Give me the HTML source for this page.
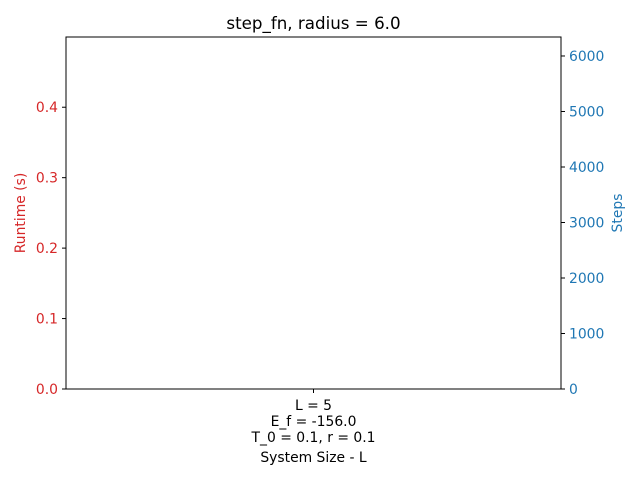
<!DOCTYPE html>
<html><head><meta charset="utf-8"><style>
body{margin:0;background:#fff;}
svg{display:block;font-family:"DejaVu Sans","Liberation Sans",sans-serif;}
</style></head><body>
<svg id="chart" width="640" height="480" viewBox="0 0 640 480">
<rect width="640" height="480" fill="#fff"/>
<text x="313.5" y="29" font-size="16.7" text-anchor="middle">step_fn, radius = 6.0</text>
<g id="marks"></g>
<g id="axes"></g>
<rect x="66" y="37" width="495" height="352" fill="none" stroke="#000" stroke-width="1"/>
<text x="0" y="0" transform="translate(25,213) rotate(-90)" font-size="13.9" fill="#d62728" text-anchor="middle">Runtime (s)</text>
<text x="0" y="0" transform="translate(622,213) rotate(-90)" font-size="13.9" fill="#1f77b4" text-anchor="middle">Steps</text>
<text x="313.5" y="462" font-size="13.9" text-anchor="middle">System Size - L</text>
</svg>
<script>
const categories = ["L = 5\nE_f = -156.0\nT_0 = 0.1, r = 0.1"];
const runtimeValues = [0];
const stepValues = [0];
const leftTicks = [0.0, 0.1, 0.2, 0.3, 0.4];
const rightTicks = [0, 1000, 2000, 3000, 4000, 5000, 6000];

const X0 = 66, X1 = 561, Y0 = 389, Y1 = 37;
const leftMax = 0.4997, rightMax = 6342;
const ns = "http://www.w3.org/2000/svg";
function yL(v){ return Y0 - v / leftMax * (Y0 - Y1); }
function yR(v){ return Y0 - v / rightMax * (Y0 - Y1); }
function xC(i){ return X0 + (i + 0.5) * (X1 - X0) / categories.length; }
function mk(tag, attrs, parent){ const e = document.createElementNS(ns, tag); for (const k in attrs) e.setAttribute(k, attrs[k]); parent.appendChild(e); return e; }
const axes = document.getElementById('axes');
const marks = document.getElementById('marks');

leftTicks.forEach(t => {
  const y = yL(t);
  const l = mk('line', {x1: X0 - 4, x2: X0, y1: y, y2: y, stroke: '#000'}, axes);
  
  
  const tx = mk('text', {x: X0 - 8, y: y + 5, 'font-size': 13.9, fill: '#d62728', 'text-anchor': 'end'}, axes);
  tx.textContent = t.toFixed(1);
  
  
});
rightTicks.forEach(t => {
  const y = yR(t);
  const l = mk('line', {x1: X1, x2: X1 + 4, y1: y, y2: y, stroke: '#000'}, axes);
  
  
  const tx = mk('text', {x: X1 + 8, y: y + 5, 'font-size': 13.9, fill: '#1f77b4', 'text-anchor': 'start'}, axes);
  tx.textContent = String(t);
  
  
});
categories.forEach((c, i) => {
  const x = xC(i);
  const l = mk('line', {x1: x, x2: x, y1: Y0, y2: Y0 + 4, stroke: '#000'}, axes);
  
  
  c.split('\n').forEach((line, j) => {
    const tx = mk('text', {x: x, y: Y0 + 21 + j * 16, 'font-size': 13.9, 'text-anchor': 'middle'}, axes);
    tx.textContent = line;
    
    
  });
  const bw = 60;
  const rv = runtimeValues[i], sv = stepValues[i];
  const b1 = mk('rect', {x: x - bw, y: yL(rv), width: bw, height: Y0 - yL(rv), fill: '#d62728'}, marks);
  
  
  const b2 = mk('rect', {x: x, y: yR(sv), width: bw, height: Y0 - yR(sv), fill: '#1f77b4'}, marks);
  
  
});
</script>
</body></html>
